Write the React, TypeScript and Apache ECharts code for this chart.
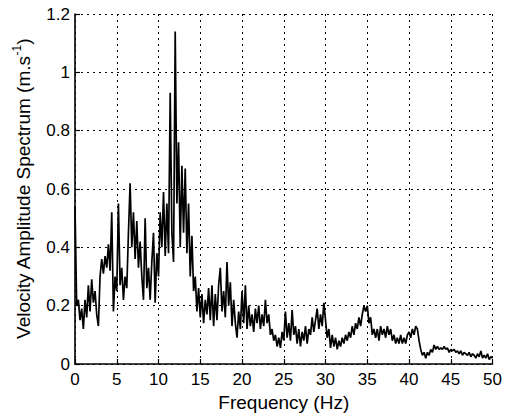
import React, { useEffect, useRef } from "react";
import * as echarts from "echarts";

const freqStep = 0.2; // Hz between samples, from 0 to 50 Hz
const amplitude: number[] = [
  // 0-5 Hz
  0.54, 0.20, 0.22, 0.15, 0.19,
  0.12, 0.22, 0.16, 0.27, 0.18,
  0.29, 0.21, 0.25, 0.17, 0.13,
  0.30, 0.36, 0.31, 0.37, 0.33,
  0.41, 0.32, 0.52, 0.18, 0.30,
  // 5-10 Hz
  0.25, 0.55, 0.27, 0.33, 0.22,
  0.30, 0.26, 0.45, 0.62, 0.40,
  0.52, 0.36, 0.49, 0.33, 0.42,
  0.30, 0.22, 0.50, 0.26, 0.33,
  0.22, 0.35, 0.45, 0.21, 0.38,
  // 10-15 Hz
  0.30, 0.52, 0.40, 0.59, 0.37,
  0.55, 0.38, 0.93, 0.45, 0.35,
  1.14, 0.55, 0.76, 0.40, 0.68,
  0.45, 0.67, 0.38, 0.55, 0.30,
  0.44, 0.25, 0.30, 0.18, 0.26,
  // 15-20 Hz
  0.16, 0.24, 0.14, 0.22, 0.17,
  0.26, 0.15, 0.27, 0.13, 0.24,
  0.15, 0.27, 0.33, 0.18, 0.25,
  0.16, 0.35, 0.20, 0.28, 0.13,
  0.22, 0.14, 0.09, 0.18, 0.12,
  // 20-25 Hz
  0.25, 0.14, 0.27, 0.12, 0.20,
  0.13, 0.17, 0.11, 0.19, 0.14,
  0.20, 0.12, 0.17, 0.13, 0.22,
  0.14, 0.17, 0.10, 0.12, 0.08,
  0.10, 0.06, 0.09, 0.055, 0.11,
  // 25-30 Hz
  0.08, 0.18, 0.09, 0.14, 0.08,
  0.185, 0.10, 0.13, 0.07, 0.12,
  0.06, 0.11, 0.08, 0.13, 0.07,
  0.12, 0.10, 0.16, 0.11, 0.15,
  0.19, 0.12, 0.17, 0.13, 0.21,
  // 30-35 Hz
  0.15, 0.09, 0.12, 0.055, 0.10,
  0.06, 0.09, 0.05, 0.08, 0.06,
  0.09, 0.07, 0.10, 0.08, 0.11,
  0.09, 0.13, 0.10, 0.14, 0.12,
  0.16, 0.13, 0.17, 0.20, 0.18,
  // 35-40 Hz
  0.20, 0.14, 0.16, 0.10, 0.12,
  0.09, 0.12, 0.08, 0.13, 0.10,
  0.12, 0.09, 0.13, 0.10, 0.12,
  0.08, 0.10, 0.07, 0.09, 0.07,
  0.10, 0.07, 0.09, 0.07, 0.10,
  // 40-45 Hz
  0.11, 0.09, 0.12, 0.10, 0.13,
  0.12, 0.08, 0.05, 0.03, 0.04,
  0.02, 0.04, 0.03, 0.05, 0.04,
  0.065, 0.05, 0.06, 0.05, 0.055,
  0.05, 0.06, 0.05, 0.055, 0.04,
  // 45-50 Hz
  0.05, 0.045, 0.05, 0.04, 0.045,
  0.035, 0.045, 0.03, 0.04, 0.035,
  0.03, 0.04, 0.025, 0.035, 0.03,
  0.02, 0.035, 0.025, 0.045, 0.02,
  0.03, 0.02, 0.035, 0.015, 0.025,
  0.02,
];

const xTicks = [0, 5, 10, 15, 20, 25, 30, 35, 40, 45, 50];
const yTicks = [0, 0.2, 0.4, 0.6, 0.8, 1, 1.2];

const FONT = "'Liberation Sans', Arial, Helvetica, sans-serif";

export default function App() {
  const ref = useRef<HTMLDivElement>(null);
  useEffect(() => {
    document.body.style.margin = "0";
    if (!ref.current) return;
    const chart = echarts.init(ref.current, undefined, { renderer: "svg" });
    const data = amplitude.map((v, i) => [Number((i * freqStep).toFixed(2)), v]);
    const gridLine = { show: true, lineStyle: { color: "#000", width: 1, type: [2, 4] as any } };
    chart.setOption({
      animation: false,
      backgroundColor: "#fff",
      grid: { left: 75, right: 9, top: 14, bottom: 53, containLabel: false },
      xAxis: {
        type: "value",
        min: xTicks[0],
        max: xTicks[xTicks.length - 1],
        interval: 5,
        name: "Frequency (Hz)",
        nameLocation: "middle",
        nameGap: 24,
        nameTextStyle: { fontSize: 19, color: "#000", fontFamily: FONT },
        axisLine: { show: true, onZero: false, lineStyle: { color: "#000", width: 1.6 } },
        axisTick: { show: true, inside: true, length: 5, lineStyle: { color: "#000", width: 1.2 } },
        axisLabel: { fontSize: 17, color: "#000", fontFamily: FONT, margin: 7 },
        splitLine: gridLine,
      },
      yAxis: {
        type: "value",
        min: yTicks[0],
        max: yTicks[yTicks.length - 1],
        interval: 0.2,
        name: "Velocity Amplitude Spectrum (m.s{sup|-1})",
        nameLocation: "middle",
        nameRotate: 90,
        nameGap: 38,
        nameTextStyle: {
          fontSize: 19,
          color: "#000",
          fontFamily: FONT,
          lineHeight: 24,
          rich: { sup: { fontSize: 12, lineHeight: 12, verticalAlign: "top", color: "#000", fontFamily: FONT } },
        },
        axisLine: { show: true, onZero: false, lineStyle: { color: "#000", width: 1.6 } },
        axisTick: { show: true, inside: true, length: 5, lineStyle: { color: "#000", width: 1.2 } },
        axisLabel: {
          fontSize: 17,
          color: "#000",
          fontFamily: FONT,
          margin: 5,
          formatter: (v: number) => String(parseFloat(v.toFixed(1))),
        },
        splitLine: gridLine,
      },
      series: [
        {
          type: "line",
          data,
          showSymbol: false,
          symbol: "none",
          lineStyle: { color: "#000", width: 1.7 },
          silent: true,
        },
      ],
    });
    return () => chart.dispose();
  }, []);
  return <div ref={ref} style={{ width: 505, height: 417 }} />;
}
